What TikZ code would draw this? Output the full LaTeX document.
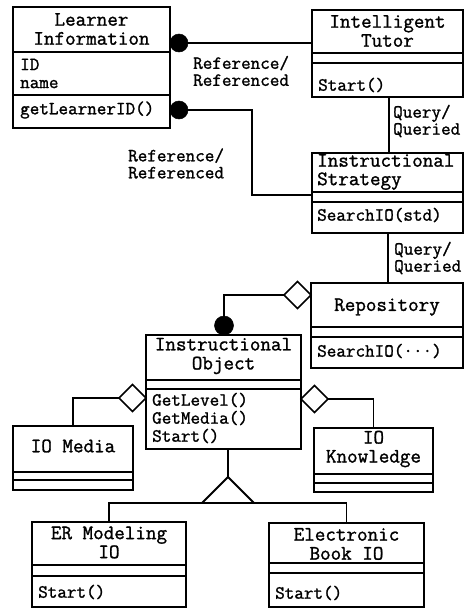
\documentclass[tikz,border=0pt]{standalone}
\usepackage{fontspec}
\setmonofont{Latin Modern Mono}[FakeBold=1.3]
\usetikzlibrary{shapes.geometric}

% class box: name, left, top, right, bottom, first divider, second divider
\newcommand{\classbox}[7]{%
  \node[frame, minimum width={#4-#2}, minimum height={#5-#3}] (#1) at ({(#2+#4)/2},{(#3+#5)/2}) {};
  \draw[rule] (#2,#6) -- (#4,#6);
  \draw[rule] (#2,#7) -- (#4,#7);
}

\tikzset{
  frame/.style={draw, rectangle, line width=1.8pt, inner sep=0pt, outer sep=0pt},
  rule/.style={line width=1.6pt},
  conn/.style={line width=1.8pt},
  dot/.style={circle, fill, draw, line width=0.5pt, minimum size=18pt, inner sep=0pt, outer sep=0pt},
  agg/.style={diamond, draw, fill=white, line width=1.6pt, aspect=1, minimum width=27pt, minimum height=27pt, inner sep=0pt, outer sep=0pt},
  ttl/.style={inner sep=0pt, align=center, font=\ttfamily\fontsize{20.5}{19}\selectfont},
  ttlleft/.style={inner sep=0pt, align=left, anchor=west, font=\ttfamily\fontsize{20.5}{18.5}\selectfont},
  body/.style={inner sep=0pt, align=left, anchor=west, font=\ttfamily\fontsize{18.6}{18}\selectfont},
  lbl/.style={inner sep=0pt, align=left, anchor=west, font=\ttfamily\fontsize{18.6}{17}\selectfont},
}

\begin{document}
\begin{tikzpicture}[x=1pt, y=-1pt]
\useasboundingbox (0,0) rectangle (471,608);

% class boxes
\classbox{li}{13}{7}{170}{128}{52}{95}
\classbox{it}{312}{10}{463}{97}{53}{63}
\classbox{is}{312}{153}{463}{233}{192}{202}
\classbox{repo}{311}{283}{463}{368}{327}{337}
\classbox{io}{146}{335}{301}{449}{380}{389}
\classbox{media}{13}{426}{133}{490}{472}{480}
\classbox{know}{314}{428}{433}{492}{474}{483}
\classbox{er}{32}{522}{186}{607}{565}{576}
\classbox{eb}{269}{523}{424}{607}{563}{573}

% class names, attributes and operations
\node[ttl] (liname) at (91.5,29) {Learner\\Information};
\node[body] (liattr) at (20,73.5) {ID\\name};
\node[body] (liop) at (20,110) {getLearnerID()};

\node[ttl] (itname) at (387.5,31) {Intelligent\\Tutor};
\node[body] (itop) at (318,85) {Start()};

\node[ttlleft] (isname) at (317,172) {Instructional\\Strategy};
\node[body] (isop) at (317,215) {SearchIO(std)};

\node[ttl] (reponame) at (387,307) {Repository};
\node[body] (repoop) at (317,351) {SearchIO(···)};

\node[ttl] (ioname) at (223.5,356) {Instructional\\Object};
\node[body] (ioop) at (152,418) {GetLevel()\\GetMedia()\\Start()};

\node[ttl] (medianame) at (73,446) {IO Media};
\node[ttl] (knowname) at (373.5,449) {IO\\Knowledge};

\node[ttl] (ername) at (109,542.5) {ER Modeling\\IO};
\node[body] (erop) at (38,592) {Start()};

\node[ttl] (ebname) at (346.5,544) {Electronic\\Book IO};
\node[body] (ebop) at (275,593) {Start()};

% reference associations with filled ends
\node[dot] (c1) at (179,43) {};
\node[dot] (c2) at (179,110) {};
\draw[conn] (c1.east) -- (it.west |- c1.east);
\draw[conn] (c2.east) -| (252,195) -- (is.west |- 0,195);
\node[lbl] (ref1) at (193,71) {Reference/\\Referenced};
\node[lbl] (ref2) at (128,163.5) {Reference/\\Referenced};

% query associations
\draw[conn] (it.south -| 389,0) -- (is.north -| 389,0);
\draw[conn] (is.south -| 388,0) -- (repo.north -| 388,0);
\node[lbl] (q1) at (393,121) {Query/\\Queried};
\node[lbl] (q2) at (394,258) {Query/\\Queried};

% repository aggregates instructional objects
\node[agg, anchor=east] (d1) at (repo.west |- 0,295) {};
\node[dot, minimum size=19pt, anchor=south] (c3) at (io.north -| 224,0) {};
\draw[conn] (d1.west) -| (c3.north);

% instructional object aggregates media and knowledge
\node[agg, anchor=east] (dl) at (io.west |- 0,398) {};
\node[agg, anchor=west] (dr) at (io.east |- 0,399) {};
\draw[conn] (dl.west) -| (media.north);
\draw[conn] (dr.east) -| (know.north);

% generalization
\coordinate (apex) at (228,477);
\coordinate (bl) at (202,503);
\coordinate (br) at (254,503);
\draw[conn] (io.south -| apex) -- (apex);
\draw[conn, line join=miter] (apex) -- (bl) -- (br) -- cycle;
\draw[conn] (er.north) |- (eb.north |- bl) -- (eb.north);
\end{tikzpicture}
\end{document}
